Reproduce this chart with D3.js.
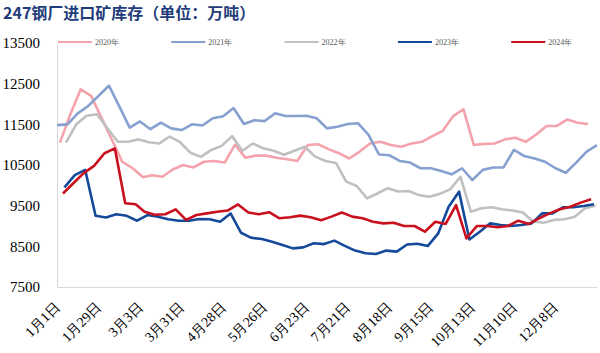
<!DOCTYPE html>
<html lang="zh">
<head>
<meta charset="utf-8">
<title>247钢厂进口矿库存</title>
<script src="https://cdn.jsdelivr.net/npm/d3@7"></script>
<style>
  body { margin: 0; background: #fff; }
  svg { display: block; }
</style>
</head>
<body>
<script>
// weekly data, each year starts on its own first Friday
var years = ["2020年", "2021年", "2022年", "2023年", "2024年"];
var firstDates = ["2020-01-03", "2021-01-01", "2022-01-07", "2023-01-06", "2024-01-05"];

var v2020 = [11050, 11750, 12360, 12200, 11660, 11120, 10580, 10420, 10200, 10250, 10210, 10390, 10500, 10440, 10580, 10600, 10560, 11000, 10680, 10730, 10730, 10680, 10640, 10600, 10990, 11010, 10890, 10790, 10660, 10830, 11030, 11070, 10990, 10950, 11030, 11070, 11210, 11340, 11700, 11870, 10990, 11020, 11030, 11130, 11170, 11070, 11250, 11460, 11460, 11620, 11540, 11510];
var v2021 = [11480, 11500, 11770, 11950, 12200, 12450, 11940, 11420, 11570, 11380, 11540, 11400, 11360, 11500, 11470, 11650, 11700, 11900, 11510, 11600, 11580, 11770, 11705, 11705, 11710, 11650, 11400, 11440, 11510, 11525, 11240, 10760, 10740, 10600, 10560, 10420, 10420, 10350, 10270, 10420, 10130, 10380, 10440, 10440, 10870, 10720, 10660, 10580, 10420, 10310, 10560, 10830, 10990];
var v2022 = [11050, 11500, 11710, 11750, 11400, 11070, 11070, 11130, 11060, 11030, 11200, 11060, 10800, 10700, 10870, 10970, 11210, 10850, 11030, 10910, 10850, 10750, 10850, 10950, 10705, 10600, 10550, 10090, 9984, 9680, 9800, 9930, 9850, 9860, 9760, 9720, 9790, 9900, 10210, 9350, 9435, 9460, 9410, 9380, 9330, 9110, 9080, 9150, 9165, 9230, 9435, 9500];
var v2023 = [9950, 10250, 10380, 9250, 9210, 9290, 9250, 9130, 9270, 9230, 9165, 9130, 9130, 9170, 9165, 9105, 9310, 8835, 8710, 8680, 8615, 8535, 8450, 8475, 8575, 8555, 8640, 8510, 8395, 8330, 8310, 8395, 8370, 8545, 8565, 8510, 8820, 9475, 9845, 8670, 8860, 9065, 9025, 9000, 9025, 9065, 9310, 9310, 9460, 9460, 9490, 9535];
var v2024 = [9800, 10050, 10300, 10480, 10790, 10910, 9560, 9535, 9350, 9275, 9290, 9410, 9150, 9270, 9310, 9350, 9380, 9530, 9330, 9290, 9340, 9190, 9215, 9255, 9215, 9140, 9230, 9330, 9230, 9190, 9105, 9065, 9080, 9000, 9000, 8860, 9105, 9050, 9515, 8695, 9000, 9000, 8970, 9000, 9130, 9050, 9190, 9310, 9410, 9475, 9575, 9655];

var tickLabels = ["1月1日", "1月29日", "3月3日", "3月31日", "4月28日", "5月26日", "6月23日", "7月21日", "8月18日", "9月15日", "10月13日", "11月10日", "12月8日"];
var yTicks = [7500, 8500, 9500, 10500, 11500, 12500, 13500];

var colors = ["#F4A3AC", "#86A1D0", "#C0C0C0", "#154A9B", "#C8101E"];
var values = [v2020, v2021, v2022, v2023, v2024];

var w = 600, h = 353;
var plotLeft = 57, plotRight = 597, plotTop = 43, plotBottom = 287;

var svg = d3.select("body").append("svg")
    .attr("width", w)
    .attr("height", h);

// title
svg.append("text")
    .attr("x", 3)
    .attr("y", 19)
    .style("font-family", "'Noto Sans CJK SC', sans-serif")
    .style("font-weight", "700")
    .style("font-size", "16px")
    .style("fill", "#1F3D7A")
    .text("247钢厂进口矿库存（单位：万吨）");

// all years are put on the same (non leap) calendar year
var refYear = 2021;
function toRef(d) {
    return new Date(refYear, d.getMonth(), d.getDate());
}

var x = d3.scaleTime()
    .domain([new Date(refYear, 0, 1), new Date(refYear, 11, 31)])
    .range([plotLeft, plotRight]);
var y = d3.scaleLinear()
    .domain([7500, 13500])
    .range([plotBottom, plotTop]);

var tickDates = tickLabels.map(function(d, i) {
    return d3.timeDay.offset(new Date(refYear, 0, 1), 28 * i);
});

// y axis
var yAxis = d3.axisLeft(y)
    .tickValues(yTicks)
    .tickFormat(d3.format("d"))
    .tickSize(0)
    .tickSizeOuter(0)
    .tickPadding(17);
var gy = svg.append("g")
    .attr("transform", "translate(" + plotLeft + ",0)")
    .call(yAxis);
gy.select(".domain").attr("stroke", "#D9D9D9");
gy.selectAll("text")
    .style("font-family", "'Liberation Serif', serif")
    .style("font-size", "15px")
    .style("fill", "#000");

// x axis
var xAxis = d3.axisBottom(x)
    .tickValues(tickDates)
    .tickFormat(function(d, i) { return tickLabels[i]; })
    .tickSize(0)
    .tickSizeOuter(0);
var gx = svg.append("g")
    .attr("transform", "translate(0," + plotBottom + ")")
    .call(xAxis);
gx.select(".domain").attr("stroke", "#D9D9D9");
gx.selectAll("text")
    .attr("x", 0)
    .attr("y", 0)
    .attr("dy", 0)
    .attr("transform", "translate(3,21) rotate(-45)")
    .style("text-anchor", "end")
    .style("font-family", "'Liberation Serif', serif")
    .style("font-size", "14px")
    .style("fill", "#000");

// lines
var line = d3.line()
    .x(function(d) { return x(d.date); })
    .y(function(d) { return y(d.value); });

values.forEach(function(vals, k) {
    var start = d3.timeParse("%Y-%m-%d")(firstDates[k]);
    var pts = vals.map(function(v, j) {
        return { date: toRef(d3.timeDay.offset(start, 7 * j)), value: v };
    });
    svg.append("path")
        .datum(pts)
        .attr("fill", "none")
        .attr("stroke", colors[k])
        .attr("stroke-width", 2.6)
        .attr("stroke-linejoin", "round")
        .attr("d", line);
});

// legend
var legend = svg.selectAll(".legend")
    .data(years)
    .enter()
    .append("g")
    .attr("class", "legend")
    .attr("transform", function(d, i) { return "translate(" + (58 + i * 113.3) + ",42)"; });
legend.append("line")
    .attr("x1", 0)
    .attr("x2", 34)
    .attr("stroke", function(d, i) { return colors[i]; })
    .attr("stroke-width", 2);
legend.append("text")
    .attr("x", 37)
    .attr("y", 3)
    .style("font-family", "'Liberation Serif', serif")
    .style("font-size", "8px")
    .style("fill", "#595959")
    .text(function(d) { return d; });
</script>
</body>
</html>
